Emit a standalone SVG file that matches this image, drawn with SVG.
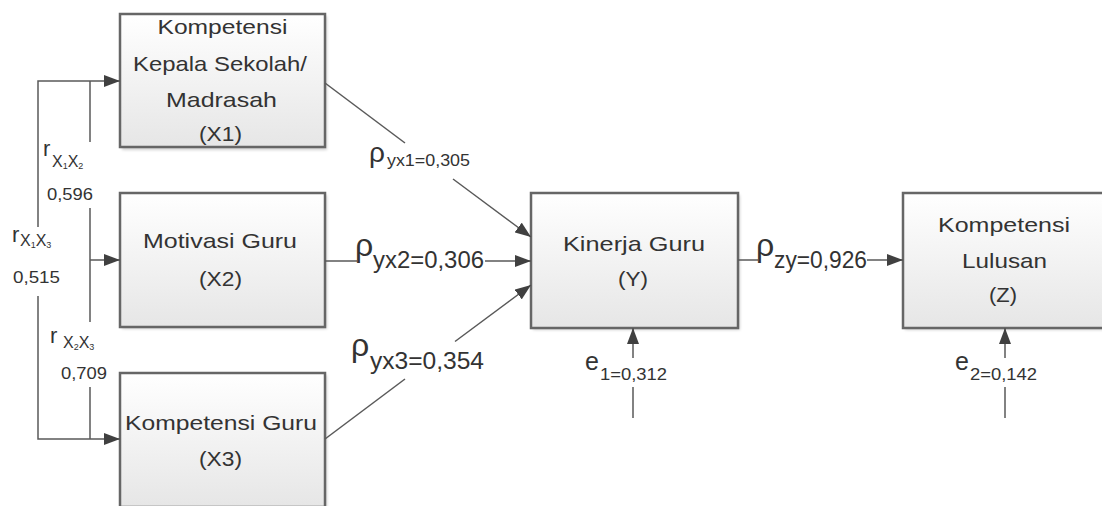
<svg xmlns="http://www.w3.org/2000/svg" width="1102" height="506" viewBox="0 0 1102 506">
<style>
.box{fill:url(#g);stroke:#666666;stroke-width:2.5}
.sh{fill:#000;opacity:0.18;filter:url(#blur)}
.t{font-family:"Liberation Sans",Arial,sans-serif;fill:#333333;font-size:21px;text-anchor:middle}
.l{font-family:"Liberation Sans",Arial,sans-serif;fill:#333333}
.c{stroke:#595959;stroke-width:1.5;fill:none}
.a{marker-end:url(#ah)}
</style>
<defs>
<linearGradient id="g" x1="0" y1="0" x2="0" y2="1">
<stop offset="0" stop-color="#ffffff"/>
<stop offset="1" stop-color="#e6e6e6"/>
</linearGradient>
<filter id="blur" x="-10%" y="-10%" width="120%" height="120%"><feGaussianBlur stdDeviation="1.5"/></filter>
<marker id="ah" markerUnits="userSpaceOnUse" markerWidth="16" markerHeight="12" refX="16" refY="6" orient="auto">
<path d="M0,0 L16,6 L0,12 z" fill="#404040"/>
</marker>
</defs>

<g id="x1">
<rect class="sh" x="122" y="16" width="205" height="134"/>
<rect class="box" x="120" y="14" width="205" height="133"/>
<text class="t" x="222.5" y="34" textLength="130" lengthAdjust="spacingAndGlyphs">Kompetensi</text>
<text class="t" x="220" y="71" textLength="174" lengthAdjust="spacingAndGlyphs">Kepala Sekolah/</text>
<text class="t" x="221.5" y="107" textLength="111" lengthAdjust="spacingAndGlyphs">Madrasah</text>
<text class="t" x="220.5" y="141" textLength="43" lengthAdjust="spacingAndGlyphs">(X1)</text>
</g>

<g id="x2">
<rect class="sh" x="122" y="195" width="205" height="134"/>
<rect class="box" x="120" y="193" width="205" height="134"/>
<text class="t" x="220" y="248" textLength="154" lengthAdjust="spacingAndGlyphs">Motivasi Guru</text>
<text class="t" x="220.5" y="286" textLength="43" lengthAdjust="spacingAndGlyphs">(X2)</text>
</g>

<g id="x3">
<rect class="sh" x="122" y="375" width="205" height="134"/>
<rect class="box" x="120" y="373" width="205" height="134"/>
<text class="t" x="221" y="430" textLength="192" lengthAdjust="spacingAndGlyphs">Kompetensi Guru</text>
<text class="t" x="220.5" y="466" textLength="43" lengthAdjust="spacingAndGlyphs">(X3)</text>
</g>

<g id="y">
<rect class="sh" x="533" y="195" width="207" height="135"/>
<rect class="box" x="531" y="193" width="207" height="135"/>
<text class="t" x="634" y="251" textLength="142" lengthAdjust="spacingAndGlyphs">Kinerja Guru</text>
<text class="t" x="633" y="286" textLength="30" lengthAdjust="spacingAndGlyphs">(Y)</text>
</g>

<g id="z">
<rect class="sh" x="905" y="195" width="205" height="135"/>
<rect class="box" x="903" y="193" width="205" height="135"/>
<text class="t" x="1004" y="232" textLength="132" lengthAdjust="spacingAndGlyphs">Kompetensi</text>
<text class="t" x="1004.5" y="268" textLength="85" lengthAdjust="spacingAndGlyphs">Lulusan</text>
<text class="t" x="1003" y="302" textLength="28" lengthAdjust="spacingAndGlyphs">(Z)</text>
</g>

<g id="connectors">
<path class="c a" d="M38,227 V81 H120"/>
<path class="c a" d="M38,296 V439 H120"/>
<path class="c" d="M90,81 V142"/>
<path class="c" d="M90,208 V322"/>
<path class="c a" d="M90,260 H120"/>
<path class="c" d="M90,387 V439"/>
<path class="c" d="M325,83 L405,143"/>
<path class="c a" d="M453,179 L531,237"/>
<path class="c" d="M325,261 H357"/>
<path class="c a" d="M485,261 H531"/>
<path class="c" d="M325,439 L405,379"/>
<path class="c a" d="M455,341.5 L531,285"/>
<path class="c" d="M738,260 H758"/>
<path class="c a" d="M867,260 H903"/>
<path class="c" d="M633,418 V387"/>
<path class="c a" d="M633,358 V328"/>
<path class="c" d="M1005,418 V387"/>
<path class="c a" d="M1005,358 V328"/>
</g>

<g id="labels">
<text class="l" x="43" y="156" font-size="22">r</text>
<text class="l" x="52" y="167" font-size="16">X<tspan font-size="9" dy="2">1</tspan><tspan dy="-2">X</tspan><tspan font-size="9" dy="2">2</tspan></text>
<text class="l" x="47" y="200" font-size="17" textLength="46" lengthAdjust="spacingAndGlyphs">0,596</text>

<text class="l" x="12" y="242" font-size="22">r</text>
<text class="l" x="20" y="246" font-size="16">X<tspan font-size="9" dy="2">1</tspan><tspan dy="-2">X</tspan><tspan font-size="9" dy="2">3</tspan></text>
<text class="l" x="13" y="283" font-size="17" textLength="47" lengthAdjust="spacingAndGlyphs">0,515</text>

<text class="l" x="50" y="343" font-size="22">r</text>
<text class="l" x="63" y="348" font-size="16">X<tspan font-size="9" dy="2">2</tspan><tspan dy="-2">X</tspan><tspan font-size="9" dy="2">3</tspan></text>
<text class="l" x="61" y="379" font-size="17" textLength="46" lengthAdjust="spacingAndGlyphs">0,709</text>

<text class="l" x="369" y="162" font-size="28">ρ</text>
<text class="l" x="387" y="166" font-size="17" textLength="83" lengthAdjust="spacingAndGlyphs">yx1=0,305</text>

<text class="l" x="355" y="256" font-size="32">ρ</text>
<text class="l" x="373" y="268" font-size="24" textLength="111" lengthAdjust="spacingAndGlyphs">yx2=0,306</text>

<text class="l" x="351" y="356" font-size="32">ρ</text>
<text class="l" x="370" y="369" font-size="24" textLength="114" lengthAdjust="spacingAndGlyphs">yx3=0,354</text>

<text class="l" x="756" y="256" font-size="32">ρ</text>
<text class="l" x="774" y="268" font-size="24" textLength="93" lengthAdjust="spacingAndGlyphs">zy=0,926</text>

<text class="l" x="585" y="370" font-size="25">e</text>
<text class="l" x="600" y="380" font-size="17" textLength="67" lengthAdjust="spacingAndGlyphs">1=0,312</text>

<text class="l" x="955" y="370" font-size="25">e</text>
<text class="l" x="970" y="380" font-size="17" textLength="67" lengthAdjust="spacingAndGlyphs">2=0,142</text>
</g>
</svg>
